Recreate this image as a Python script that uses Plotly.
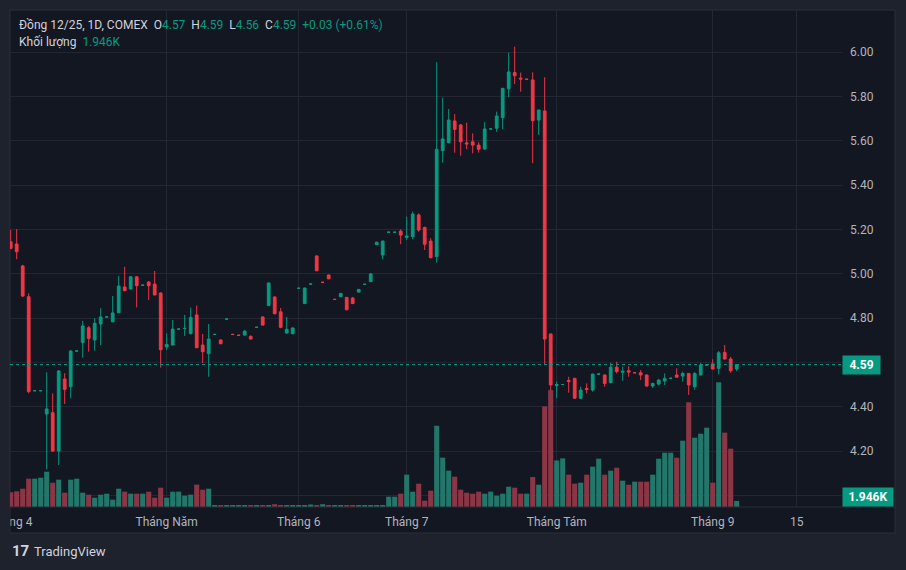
import plotly.graph_objects as go

# ---- data ----
opens = [5.144, 5.134, 5.035, 4.896, 4.472, 4.472, 4.367, 4.373, 4.200, 4.525,
         4.490, 4.651, 4.689, 4.756, 4.701, 4.773, 4.805, 4.783, 4.824, 4.940,
         4.931, 4.986, 4.948, 4.962, 4.953, 4.913, 4.669, 4.678, 4.750, 4.753,
         4.729, 4.814, 4.678, 4.639, 4.726, 4.701, 4.795, 4.726, 4.722, 4.723,
         4.717, 4.758, 4.805, 4.856, 4.895, 4.828, 4.732, 4.729, 4.934, 4.865,
         4.953, 5.080, 4.961, 4.994, 4.884, 4.896, 4.893, 4.890, 4.917, 4.952,
         4.964, 5.131, 5.084, 5.187, 5.187, 5.192, 5.163, 5.167, 5.265, 5.209,
         5.147, 5.077, 5.555, 5.591, 5.689, 5.671, 5.590, 5.595, 5.580, 5.562,
         5.653, 5.656, 5.704, 5.834, 5.907, 5.882, 5.877, 5.874, 5.693, 5.734,
         4.728, 4.495, 4.500, 4.518, 4.528, 4.438, 4.482, 4.475, 4.547, 4.543,
         4.508, 4.578, 4.555, 4.562, 4.553, 4.553, 4.543, 4.493, 4.502, 4.516,
         4.528, 4.543, 4.538, 4.550, 4.490, 4.543, 4.588, 4.593, 4.573, 4.645,
         4.615, 4.570]
highs = [5.197, 5.201, 5.040, 4.911, 4.475, 4.475, 4.555, 4.460, 4.565, 4.551,
         4.655, 4.653, 4.787, 4.764, 4.799, 4.844, 4.807, 4.899, 4.990, 5.031,
         4.990, 4.988, 4.950, 4.967, 5.012, 4.915, 4.731, 4.791, 4.752, 4.814,
         4.847, 4.856, 4.728, 4.773, 4.728, 4.703, 4.800, 4.728, 4.724, 4.745,
         4.722, 4.760, 4.807, 4.960, 4.897, 4.845, 4.805, 4.757, 4.937, 4.937,
         4.955, 5.082, 4.963, 4.996, 4.886, 4.913, 4.895, 4.895, 4.931, 4.954,
         5.001, 5.144, 5.149, 5.189, 5.189, 5.200, 5.257, 5.280, 5.272, 5.211,
         5.160, 5.954, 5.794, 5.743, 5.720, 5.675, 5.681, 5.633, 5.593, 5.684,
         5.655, 5.731, 5.838, 5.997, 6.024, 5.907, 5.879, 5.908, 5.740, 5.886,
         4.730, 4.513, 4.502, 4.535, 4.530, 4.490, 4.505, 4.549, 4.549, 4.545,
         4.598, 4.603, 4.580, 4.583, 4.555, 4.565, 4.545, 4.508, 4.525, 4.550,
         4.530, 4.573, 4.558, 4.552, 4.556, 4.598, 4.590, 4.614, 4.651, 4.678,
         4.625, 4.590]
lows = [5.110, 5.065, 4.895, 4.460, 4.470, 4.470, 4.117, 4.195, 4.137, 4.412,
        4.438, 4.649, 4.621, 4.648, 4.653, 4.678, 4.803, 4.781, 4.822, 4.921,
        4.929, 4.848, 4.946, 4.881, 4.902, 4.576, 4.656, 4.676, 4.748, 4.719,
        4.727, 4.664, 4.596, 4.535, 4.724, 4.682, 4.793, 4.724, 4.720, 4.721,
        4.703, 4.756, 4.766, 4.854, 4.817, 4.754, 4.730, 4.727, 4.932, 4.863,
        4.951, 5.011, 4.959, 4.975, 4.882, 4.894, 4.835, 4.863, 4.915, 4.950,
        4.962, 5.129, 5.065, 5.185, 5.185, 5.133, 5.152, 5.155, 5.189, 5.107,
        5.069, 5.050, 5.501, 5.589, 5.546, 5.532, 5.561, 5.543, 5.546, 5.560,
        5.651, 5.640, 5.651, 5.796, 5.856, 5.821, 5.875, 5.498, 5.626, 4.588,
        4.408, 4.438, 4.498, 4.463, 4.436, 4.436, 4.460, 4.468, 4.545, 4.490,
        4.506, 4.550, 4.517, 4.535, 4.551, 4.520, 4.490, 4.484, 4.496, 4.498,
        4.526, 4.531, 4.513, 4.453, 4.476, 4.541, 4.586, 4.568, 4.546, 4.613,
        4.553, 4.560]
closes = [5.114, 5.099, 4.899, 4.468, 4.472, 4.472, 4.390, 4.200, 4.561, 4.478,
          4.651, 4.651, 4.764, 4.708, 4.776, 4.805, 4.805, 4.823, 4.944, 4.923,
          4.986, 4.946, 4.948, 4.946, 4.904, 4.657, 4.681, 4.750, 4.750, 4.753,
          4.803, 4.666, 4.648, 4.705, 4.726, 4.684, 4.795, 4.726, 4.722, 4.741,
          4.705, 4.758, 4.768, 4.958, 4.819, 4.758, 4.749, 4.755, 4.934, 4.935,
          4.953, 5.013, 4.961, 4.977, 4.884, 4.911, 4.837, 4.865, 4.929, 4.952,
          4.999, 5.142, 5.147, 5.187, 5.187, 5.174, 5.170, 5.269, 5.197, 5.133,
          5.072, 5.561, 5.608, 5.693, 5.651, 5.595, 5.585, 5.580, 5.561, 5.653,
          5.653, 5.711, 5.836, 5.910, 5.893, 5.878, 5.877, 5.690, 5.738, 4.705,
          4.498, 4.500, 4.500, 4.513, 4.438, 4.475, 4.478, 4.547, 4.547, 4.505,
          4.578, 4.558, 4.560, 4.556, 4.553, 4.543, 4.493, 4.505, 4.520, 4.528,
          4.528, 4.533, 4.550, 4.498, 4.550, 4.588, 4.588, 4.570, 4.643, 4.615,
          4.562, 4.590]
# volume, thousands of contracts
volumes = [4.70, 5.02, 5.86, 9.06, 9.06, 9.38, 11.30, 7.78, 8.74, 4.58,
           8.74, 9.06, 4.58, 3.94, 2.98, 3.94, 4.26, 2.34, 5.86, 4.90,
           4.26, 4.26, 4.26, 4.90, 2.98, 6.18, 2.98, 4.90, 4.90, 3.62,
           3.94, 7.14, 5.54, 5.86, 0.40, 0.35, 0.45, 0.35, 0.40, 0.45,
           0.40, 0.35, 0.50, 0.45, 0.90, 0.40, 0.45, 0.35, 0.40, 0.45,
           0.80, 0.60, 0.90, 0.40, 0.35, 0.45, 0.40, 0.50, 0.35, 0.40,
           0.45, 0.40, 0.45, 3.30, 3.30, 4.26, 10.34, 4.90, 7.46, 2.02,
           5.22, 26.00, 15.78, 11.62, 9.70, 5.54, 4.58, 4.26, 4.90, 4.26,
           4.90, 3.62, 4.26, 6.50, 6.18, 4.26, 4.26, 9.60, 7.14, 32.20,
           37.40, 14.90, 15.55, 10.34, 7.46, 7.78, 10.34, 12.90, 15.46, 10.34,
           11.62, 12.58, 8.42, 7.14, 8.10, 8.10, 8.10, 10.34, 15.46, 17.38,
           17.38, 15.78, 21.22, 33.50, 22.18, 23.46, 25.38, 7.78, 39.90, 23.78,
           18.66, 1.946]
tick_bars = [0, 26, 48, 66, 91, 117, 131]
tick_labels = ["Tháng 4", "Tháng Năm", "Tháng 6", "Tháng 7", "Tháng Tám", "Tháng 9", "15"]
price_ticks = [4.00, 4.20, 4.40, 4.80, 5.00, 5.20, 5.40, 5.60, 5.80, 6.00]
hidden_grid_price = 4.60  # gridline whose label sits under the last-price box

G = "color:#089981"
title_line = ("Đồng 12/25, 1D, COMEX&nbsp;&nbsp;O<span style='%s'>4.57</span>&nbsp;&nbsp;"
              "H<span style='%s'>4.59</span>&nbsp;&nbsp;L<span style='%s'>4.56</span>&nbsp;&nbsp;"
              "C<span style='%s'>4.59</span>&nbsp;&nbsp;<span style='%s'>+0.03 (+0.61%%)</span>") % (G, G, G, G, G)
vol_line = "Khối lượng&nbsp;&nbsp;<span style='%s'>1.946K</span>" % G
last_vol_label = "1.946K"

# ---- style ----
UP, DOWN = "#089981", "#f23645"
VUP, VDOWN = "#22776a", "#8c3545"
PANE, OUTER, GRID, TXT = "#131722", "#1e222d", "#232733", "#b2b5be"
W, H = 906, 570
ML, MR, MT, MB = 10, 64, 10, 63
PW, PH = W - ML - MR, H - MT - MB

xs = list(range(len(opens)))
vcolors = [VUP if c >= o else VDOWN for o, c in zip(opens, closes)]

fig = go.Figure()
fig.add_trace(go.Bar(x=xs, y=volumes, marker=dict(color=vcolors, line=dict(width=0)),
                     yaxis="y2", hoverinfo="skip", showlegend=False))
fig.add_trace(go.Candlestick(x=xs, open=opens, high=highs, low=lows, close=closes,
                             increasing=dict(line=dict(color=UP, width=1), fillcolor=UP),
                             decreasing=dict(line=dict(color=DOWN, width=1), fillcolor=DOWN),
                             whiskerwidth=0, hoverinfo="skip", showlegend=False))

px_per_bar = 6.0
x0 = -0.117
x1 = x0 + PW / px_per_bar
ppu = 221.67  # pixels per price unit
ytop = 6.0 + (52 - MT) / ppu
ybot = ytop - PH / ppu
vol_per_px = 0.32


def px(xp):
    return (xp - ML) / PW


def py(yp):
    return (H - MB - yp) / PH


fig.update_layout(
    width=W, height=H, margin=dict(l=ML, r=MR, t=MT, b=MB, autoexpand=False),
    paper_bgcolor=OUTER, plot_bgcolor=PANE,
    bargap=0.15, boxgap=0.35,
    font=dict(family="Roboto", size=12, color=TXT),
    xaxis=dict(range=[x0, x1], tickvals=tick_bars, ticktext=tick_labels,
               showgrid=True, gridcolor=GRID, gridwidth=1, zeroline=False,
               showline=False, ticks="", ticklabelstandoff=6, ticklabeloverflow="allow",
               automargin=False,
               rangeslider=dict(visible=False), fixedrange=True,
               tickfont=dict(family="Roboto", size=12, color=TXT)),
    yaxis=dict(range=[ybot, ytop], side="right", tickvals=price_ticks,
               tickformat=".2f", showgrid=True, gridcolor=GRID, zeroline=False,
               showline=False, ticks="", ticklabelstandoff=7, automargin=False,
               tickfont=dict(family="Roboto", size=12, color=TXT)),
    yaxis2=dict(range=[0, PH * vol_per_px], overlaying="y", visible=False),
    shapes=[
        dict(type="rect", xref="paper", yref="paper", x0=0, x1=px(W - 11), y0=py(533), y1=1,
             fillcolor=PANE, line=dict(color="#2a2e39", width=1), layer="below"),
        dict(type="line", xref="paper", yref="y", x0=0, x1=1, y0=hidden_grid_price, y1=hidden_grid_price,
             line=dict(color=GRID, width=1), layer="below"),
        dict(type="line", xref="paper", yref="paper", x0=0, x1=px(W - 11), y0=0, y1=0,
             line=dict(color="#2a2e39", width=1), layer="above"),
        dict(type="line", xref="paper", yref="y", x0=0, x1=1, y0=closes[-1], y1=closes[-1],
             line=dict(color=UP, width=1, dash="dot"), layer="above"),
        dict(type="rect", xref="paper", yref="paper", x0=px(-2), x1=px(10.5), y0=py(535), y1=py(508),
             fillcolor=OUTER, line=dict(width=0), layer="above"),
    ],
    annotations=[
        dict(xref="paper", yref="paper", x=px(17), y=py(25), xanchor="left", yanchor="middle",
             text=title_line, showarrow=False, font=dict(family="Roboto", size=12, color="#d1d4dc")),
        dict(xref="paper", yref="paper", x=px(17), y=py(42), xanchor="left", yanchor="middle",
             text=vol_line, showarrow=False, font=dict(family="Roboto", size=12, color="#d1d4dc")),
        dict(xref="paper", yref="y", x=1, y=closes[-1], xanchor="left", yanchor="middle",
             text="<b>%.2f</b>" % closes[-1], showarrow=False, bgcolor=UP, borderpad=2,
             width=33, align="center", font=dict(family="Roboto", size=12, color="#ffffff")),
        dict(xref="paper", yref="y2", x=1, y=0, xanchor="left", yanchor="bottom",
             text="<b>%s</b>" % last_vol_label, showarrow=False, bgcolor=UP, borderpad=2,
             width=46, align="center", font=dict(family="Roboto", size=12, color="#ffffff")),
        dict(xref="paper", yref="paper", x=px(10), y=py(551), xanchor="left", yanchor="middle",
             text="<b>17</b>", showarrow=False, font=dict(family="Roboto", size=15, color="#d1d4dc")),
        dict(xref="paper", yref="paper", x=px(32), y=py(551), xanchor="left", yanchor="middle",
             text="TradingView", showarrow=False, font=dict(family="Roboto", size=13, color="#d1d4dc")),
    ],
)

fig.write_html("out.html")
